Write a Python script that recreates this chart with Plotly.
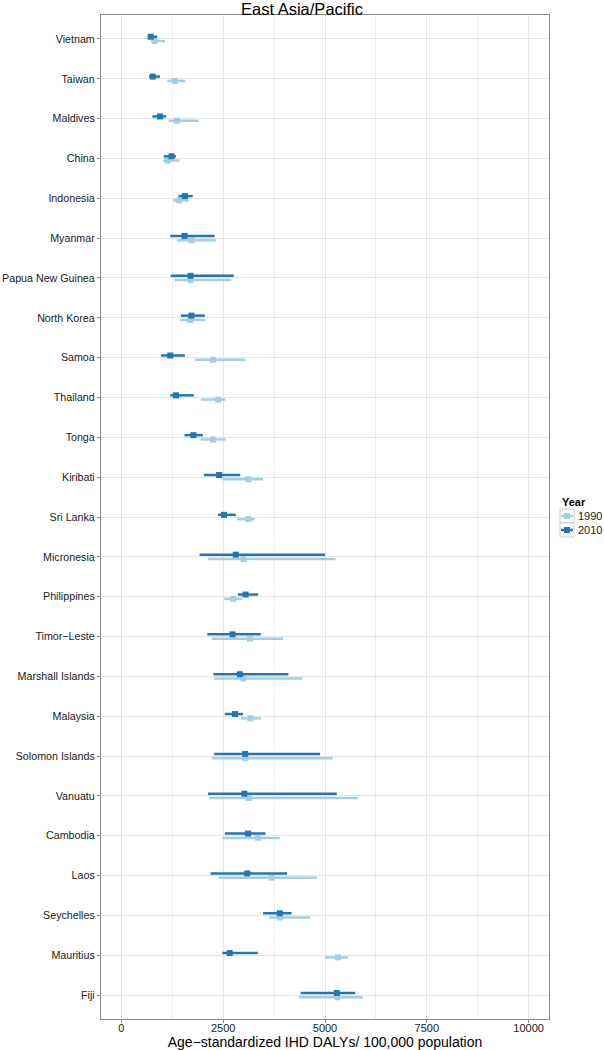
import plotly.graph_objects as go

COUNTRIES = ["Vietnam", "Taiwan", "Maldives", "China", "Indonesia", "Myanmar",
             "Papua New Guinea", "North Korea", "Samoa", "Thailand", "Tonga",
             "Kiribati", "Sri Lanka", "Micronesia", "Philippines", "Timor\u2212Leste",
             "Marshall Islands", "Malaysia", "Solomon Islands", "Vanuatu",
             "Cambodia", "Laos", "Seychelles", "Mauritius", "Fiji"]

MEAN_1990 = [820, 1310, 1360, 1130, 1420, 1720, 1700, 1690, 2250, 2380, 2250,
             3120, 3120, 3000, 2750, 3160, 2990, 3170, 3040, 3130, 3350, 3690,
             3890, 5320, 5300]
LOW_1990 = [730, 1130, 1160, 1020, 1280, 1360, 1310, 1440, 1810, 1950, 1950,
            2470, 2840, 2130, 2520, 2220, 2280, 2940, 2230, 2160, 2480, 2390,
            3630, 4990, 4360]
HIGH_1990 = [1070, 1570, 1900, 1430, 1650, 2320, 2700, 2060, 3040, 2550, 2560,
             3480, 3270, 5260, 2970, 3970, 4450, 3430, 5190, 5800, 3890, 4800,
             4640, 5570, 5930]

MEAN_2010 = [720, 770, 950, 1230, 1560, 1550, 1700, 1720, 1200, 1340, 1770,
             2400, 2520, 2810, 3050, 2730, 2910, 2790, 3040, 3020, 3110, 3090,
             3890, 2660, 5290]
LOW_2010 = [650, 680, 760, 1040, 1400, 1200, 1210, 1460, 970, 1200, 1550,
            2030, 2370, 1920, 2860, 2110, 2260, 2540, 2280, 2130, 2540, 2190,
            3480, 2480, 4400]
HIGH_2010 = [880, 950, 1100, 1340, 1750, 2290, 2760, 2050, 1560, 1780, 2000,
             2920, 2810, 5000, 3360, 3420, 4100, 2990, 4880, 5290, 3540, 4070,
             4180, 3350, 5740]

X_TICKS = [0, 2500, 5000, 7500, 10000]
YEARS = ["1990", "2010"]
COLORS = {"1990": "#a6cee3", "2010": "#1f78b4"}

W, H = 604, 1050
L, R, T, B = 101, 549, 15, 1019
FONT = "Liberation Sans, Arial, sans-serif"
TXT = "#1a1a1a"


def px(x):
    return (x - L) / (R - L)


def py(y):
    return (B - y) / (B - T)


fig = go.Figure()
series = {
    "1990": (MEAN_1990, LOW_1990, HIGH_1990),
    "2010": (MEAN_2010, LOW_2010, HIGH_2010),
}
for yr in YEARS:
    m, lo, hi = series[yr]
    fig.add_trace(go.Scatter(
        x=m, y=COUNTRIES, name=yr, mode="markers", orientation="h",
        offsetgroup=yr, showlegend=False,
        marker=dict(symbol="square", size=6, color=COLORS[yr]),
        error_x=dict(type="data", symmetric=False,
                     array=[h - v for h, v in zip(hi, m)],
                     arrayminus=[v - l for v, l in zip(m, lo)],
                     color=COLORS[yr], thickness=2.5, width=0),
    ))

fig.update_layout(
    width=W, height=H,
    margin=dict(l=L, r=W - R, t=T, b=H - B, pad=0),
    paper_bgcolor="white", plot_bgcolor="white",
    scattermode="group", scattergap=0.784,
    font=dict(family=FONT, size=11, color=TXT),
    title=dict(text="East Asia/Pacific", x=px(325), xanchor="center",
               y=1 - 9 / H, yref="container", yanchor="middle",
               font=dict(size=16.5, color="#000")),
    showlegend=False,
)

fig.update_xaxes(
    range=[-500, 10500], tickvals=X_TICKS, ticktext=[str(v) for v in X_TICKS],
    showgrid=True, gridcolor="#e5e5e5", gridwidth=1,
    minor=dict(dtick=1250, tick0=0, showgrid=True, gridcolor="#efefef",
               gridwidth=1, ticklen=0),
    zeroline=False, showline=True, mirror=True, linecolor="#8a8a8a", linewidth=1.2,
    ticks="outside", ticklen=3, tickcolor="#8a8a8a", tickwidth=1,
    tickfont=dict(size=11, color=TXT), ticklabelstandoff=-4,
    title=dict(text="Age\u2212standardized IHD DALYs/ 100,000 population",
               font=dict(size=14, color="#000"), standoff=0),
    automargin=False,
)
fig.update_yaxes(
    type="category", categoryorder="array", categoryarray=COUNTRIES[::-1],
    range=[-0.6, len(COUNTRIES) - 0.4],
    showgrid=True, gridcolor="#e5e5e5", gridwidth=1,
    zeroline=False, showline=True, mirror=True, linecolor="#8a8a8a", linewidth=1.2,
    ticks="outside", ticklen=3, tickcolor="#8a8a8a", tickwidth=1,
    tickfont=dict(size=10.7, color=TXT),
    automargin=False,
)

# legend drawn in paper space to the right of the panel
shapes = []
annotations = [dict(text="<b>Year</b>", x=px(560), y=py(502), xref="paper", yref="paper",
                    xanchor="left", yanchor="middle", showarrow=False,
                    font=dict(size=11, color="#000"))]
key_top = 509
for i, yr in enumerate(YEARS):
    y0 = key_top + i * 14
    yc = y0 + 7
    shapes.append(dict(type="rect", xref="paper", yref="paper",
                       x0=px(560), x1=px(574), y0=py(y0), y1=py(y0 + 14),
                       line=dict(color="#cccccc", width=1), fillcolor="white"))
    shapes.append(dict(type="line", xref="paper", yref="paper",
                       x0=px(561), x1=px(573), y0=py(yc), y1=py(yc),
                       line=dict(color=COLORS[yr], width=2.5)))
    shapes.append(dict(type="rect", xref="paper", yref="paper",
                       x0=px(564), x1=px(570), y0=py(yc - 3), y1=py(yc + 3),
                       line=dict(width=0), fillcolor=COLORS[yr]))
    annotations.append(dict(text=yr, x=px(576), y=py(yc), xref="paper", yref="paper",
                            xanchor="left", yanchor="middle", showarrow=False,
                            font=dict(size=11, color=TXT)))
fig.update_layout(shapes=shapes, annotations=annotations)

fig.write_html("out.html",
               config={"displayModeBar": False},
               post_script="document.body.style.margin='0';"
                           "document.body.style.overflow='hidden';")
